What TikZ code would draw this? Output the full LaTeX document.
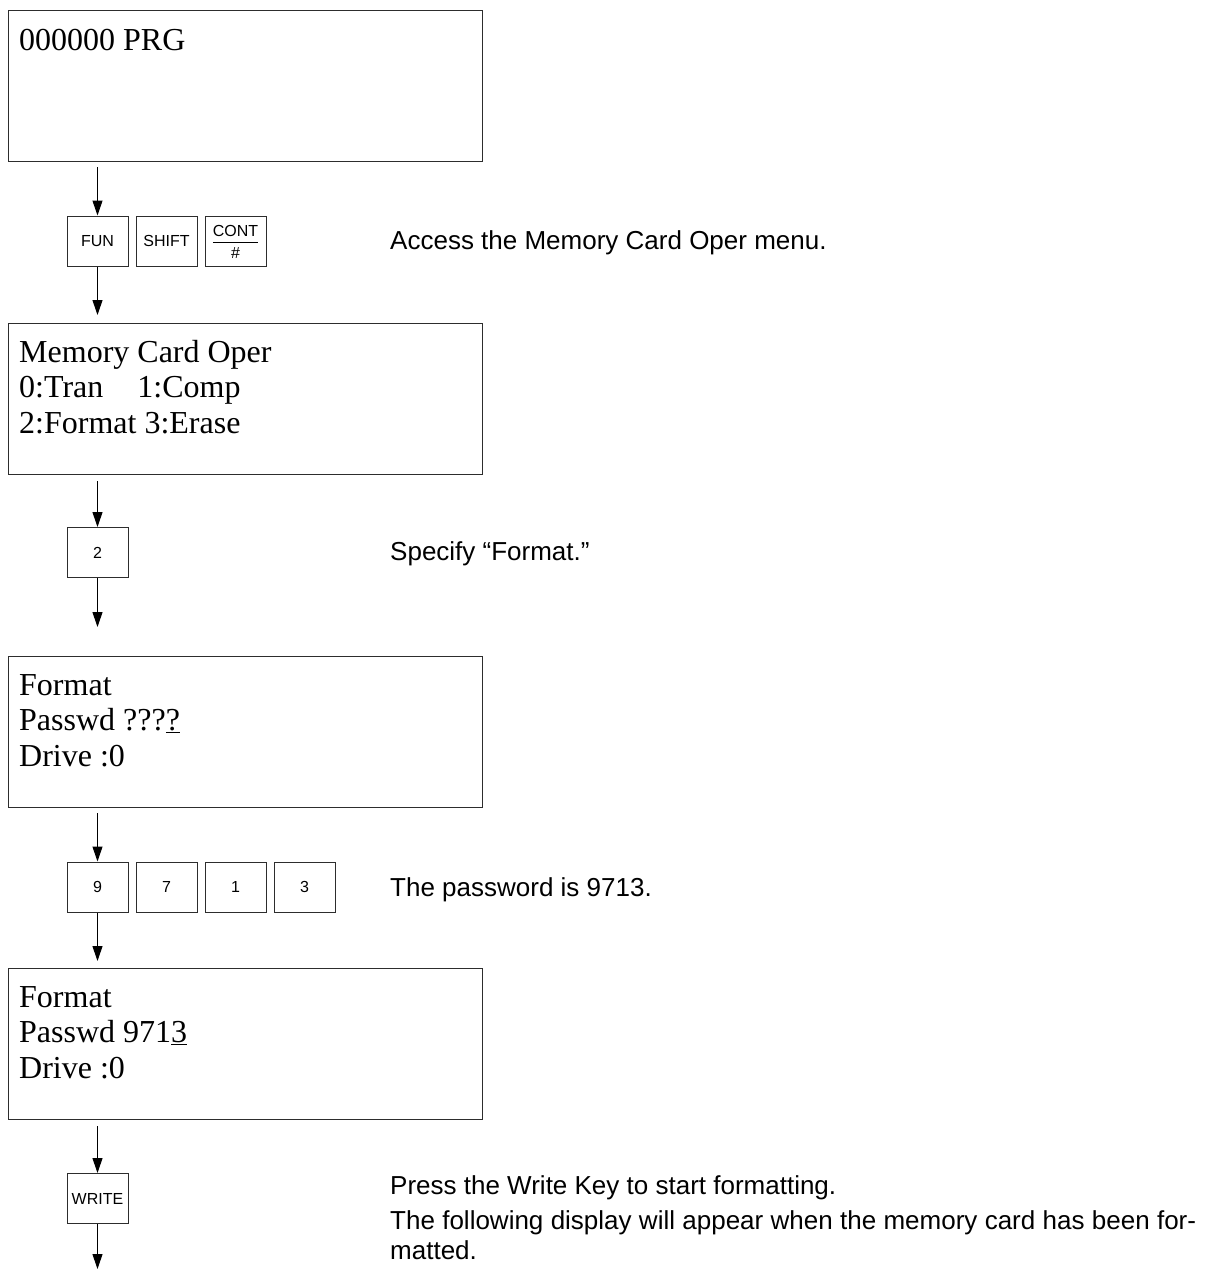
\documentclass[tikz,border=0pt]{standalone}
\usepackage{fontspec}
\setmainfont{Liberation Serif}
\setsansfont{Liberation Sans}
\usepackage{tikz}
\usetikzlibrary{
  arrows.meta, positioning, calc
}
\definecolor{frame}{RGB}{45,45,45}
\tikzset{
  screen/.style={draw=frame, line width=1.3pt, minimum width=474pt,
    minimum height=151pt, inner sep=0pt, anchor=north west},
  lcd/.style={font=\fontsize{32}{35}\selectfont, inner sep=0pt, anchor=base west},
  key/.style={draw=frame, line width=1pt, minimum width=61pt, minimum height=50pt,
    inner sep=0pt, font=\fontsize{16}{19}\sffamily},
  note/.style={font=\fontsize{26}{30}\sffamily, inner sep=0pt, anchor=base west},
  flow/.style={line width=1pt, -{Triangle[length=15pt,width=10pt]}}
}

\begin{document}
\begin{tikzpicture}[x=1pt,y=-1pt]
  \useasboundingbox (0,0) rectangle (1206,1269);
  % displays
  \node[screen] (s1) at (8,10) {};
  \node[screen] (s2) at (8,323) {};
  \node[screen] (s3) at (8,656) {};
  \node[screen] (s4) at (8,968) {};
  \node[lcd] (s1l1) at ([shift={(11,40)}]s1.north west) {000000 PRG};
  \foreach \ln [count=\i] in {Memory Card Oper, 0:Tran\hspace{34pt}1:Comp, 2:Format 3:Erase}
    \node[lcd] (s2l\i) at ([shift={(11,{39+35.5*(\i-1)})}]s2.north west) {\ln};
  \foreach \ln [count=\i] in {Format, Passwd ???\underline{?}, Drive :0}
    \node[lcd] (s3l\i) at ([shift={(11,{39+35.5*(\i-1)})}]s3.north west) {\ln};
  \foreach \ln [count=\i] in {Format, Passwd 971\underline{3}, Drive :0}
    \node[lcd] (s4l\i) at ([shift={(11,{39+35.5*(\i-1)})}]s4.north west) {\ln};
  % keys
  \node[key] (fun) at (97.5,241) {FUN};
  \node[key, right=7pt of fun] (shift) {SHIFT};
  \node[key, right=7pt of shift] (cont)
    {\begin{tabular}{@{}c@{}}\rule{0pt}{17.8pt}CONT\\\hline\rule{0pt}{16pt}\#\end{tabular}};
  \node[key] (two) at (97.5,552.5) {2};
  \node[key] (k9) at (97.5,887) {9};
  \foreach \k/\prev in {7/9, 1/7, 3/1}
    \node[key, right=7pt of k\prev] (k\k) {\k};
  \node[key] (wr) at (97.5,1198.5) {WRITE};
  % arrows
  \draw[flow, shorten <=5pt] (s1.south -| fun) -- (fun.north);
  \draw[flow, shorten >=8pt] (fun.south) -- (fun |- s2.north);
  \draw[flow, shorten <=6pt] (s2.south -| two) -- (two.north);
  \draw[flow, shorten >=29pt] (two.south) -- (two |- s3.north);
  \draw[flow, shorten <=5pt] (s3.south -| k9) -- (k9.north);
  \draw[flow, shorten >=7pt] (k9.south) -- (k9 |- s4.north);
  \draw[flow, shorten <=6pt] (s4.south -| wr) -- (wr.north);
  \coordinate (out) at (97.5,1269);
  \draw[flow] (wr.south) -- (out);
  % notes
  \node[note] (n1) at (390,249) {Access the Memory Card Oper menu.};
  \node[note] (n2) at (390,560) {Specify “Format.”};
  \node[note] (n3) at (390,896) {The password is 9713.};
  \node[note] (n4) at (390,1194) {Press the Write Key to start formatting.};
  \node[note] (n5) at (390,1229) {\makebox[806pt][s]{The following display will appear when the memory card has been for-}};
  \node[note] (n6) at (390,1259) {matted.};
\end{tikzpicture}
\end{document}
